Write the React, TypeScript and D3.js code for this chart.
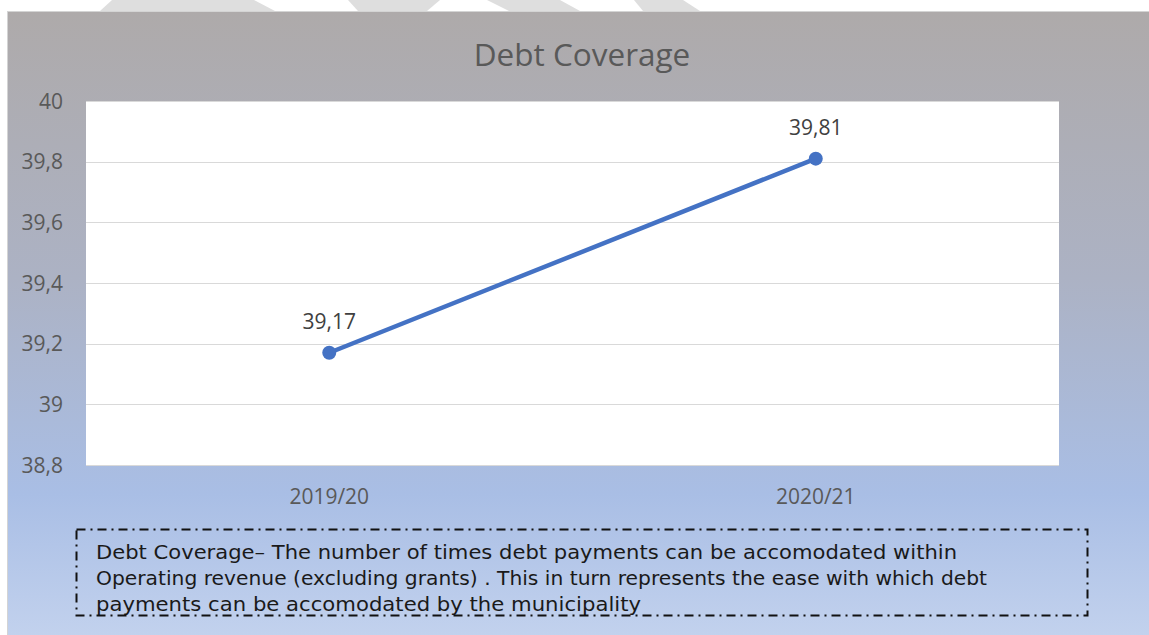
import React from "react";
import * as d3 from "d3";

const categories = ["2019/20", "2020/21"];
const values = [39.17, 39.81];
const yTicks = [38.8, 39, 39.2, 39.4, 39.6, 39.8, 40];
const title = "Debt Coverage";
const noteLines = [
  "Debt Coverage– The number of times debt payments can be accomodated within",
  "Operating revenue (excluding grants) . This in turn represents the ease with which debt",
  "payments can be accomodated by the municipality",
];

const W = 1149;
const H = 635;
const plot = { left: 86, right: 1059, top: 101, bottom: 465 };
const locale = d3.formatLocale({ decimal: ",", thousands: ".", grouping: [3], currency: ["", ""] });
const fmtTick = locale.format("~r");
const fmtVal = locale.format(".2f");

export default function App() {
  const x = d3.scalePoint<string>().domain(categories).range([plot.left, plot.right]).padding(0.5);
  const y = d3.scaleLinear().domain([38.8, 40]).range([plot.bottom, plot.top]);
  const line = d3
    .line<number>()
    .x((_, i) => x(categories[i]) as number)
    .y((d) => y(d));
  const textColor = "#595959";
  const font = "'Open Sans', sans-serif";
  const watermark = [
    [[112, 0], [254, 0], [275, 11], [100, 11]],
    [[348, 0], [440, 0], [427, 11], [358, 11]],
    [[487, 0], [560, 0], [580, 11], [509, 11]],
    [[634, 0], [683, 0], [700, 11], [643, 11]],
  ];
  const noteWidths = [861, 891, 545];
  return (
    <svg
      width={W}
      height={H}
      style={{ position: "absolute", left: 0, top: 0, display: "block" }}
    >
      <defs>
        <linearGradient id="bg" x1="0" y1="0" x2="0" y2="1">
          <stop offset="0" stopColor="#aeaaaa" />
          <stop offset="0.42" stopColor="#acb2c4" />
          <stop offset="0.76" stopColor="#a9bee5" />
          <stop offset="1" stopColor="#c4d3ee" />
        </linearGradient>
      </defs>
      <rect x={0} y={0} width={W} height={H} fill="#ffffff" />
      {watermark.map((p, i) => (
        <polygon key={i} points={p.map((q) => q.join(",")).join(" ")} fill="#dedede" />
      ))}
      <rect x={7.5} y={11.5} width={W} height={H} fill="url(#bg)" stroke="#d4d4d4" strokeWidth={1} />
      <text x={582} y={66} textAnchor="middle" fontFamily={font} fontSize={31.5} fill={textColor}>
        {title}
      </text>
      <rect
        x={plot.left}
        y={plot.top}
        width={plot.right - plot.left}
        height={plot.bottom - plot.top}
        fill="#ffffff"
      />
      {yTicks.map((t) => (
        <g key={t}>
          <line
            x1={plot.left}
            x2={plot.right}
            y1={Math.round(y(t)) + 0.5}
            y2={Math.round(y(t)) + 0.5}
            stroke="#d9d9d9"
            strokeWidth={1}
          />
          <text
            x={63}
            y={y(t)}
            dy="0.36em"
            textAnchor="end"
            fontFamily={font}
            fontSize={21}
            fill={textColor}
          >
            {fmtTick(t)}
          </text>
        </g>
      ))}
      {categories.map((c) => (
        <text key={c} x={x(c)} y={504} textAnchor="middle" fontFamily={font} fontSize={21} fill={textColor}>
          {c}
        </text>
      ))}
      <path d={line(values) || ""} fill="none" stroke="#4472c4" strokeWidth={4.5} strokeLinecap="round" />
      {values.map((v, i) => (
        <g key={i}>
          <circle cx={x(categories[i])} cy={y(v)} r={7} fill="#4472c4" />
          <text
            x={x(categories[i])}
            y={y(v) - 24}
            textAnchor="middle"
            fontFamily={font}
            fontSize={21}
            fill="#404040"
          >
            {fmtVal(v)}
          </text>
        </g>
      ))}
      {noteLines.map((l, i) => (
        <text
          key={i}
          x={96}
          y={559 + i * 26}
          fontFamily="'DejaVu Sans', sans-serif"
          fontSize={19.5}
          fill="#1a1a1a"
          textLength={noteWidths[i]}
          lengthAdjust="spacingAndGlyphs"
        >
          {l}
        </text>
      ))}
      <rect
        x={76.5}
        y={529.5}
        width={1011}
        height={86}
        fill="none"
        stroke="#111111"
        strokeWidth={2}
        strokeDasharray="9,5,2,5"
      />
    </svg>
  );
}
